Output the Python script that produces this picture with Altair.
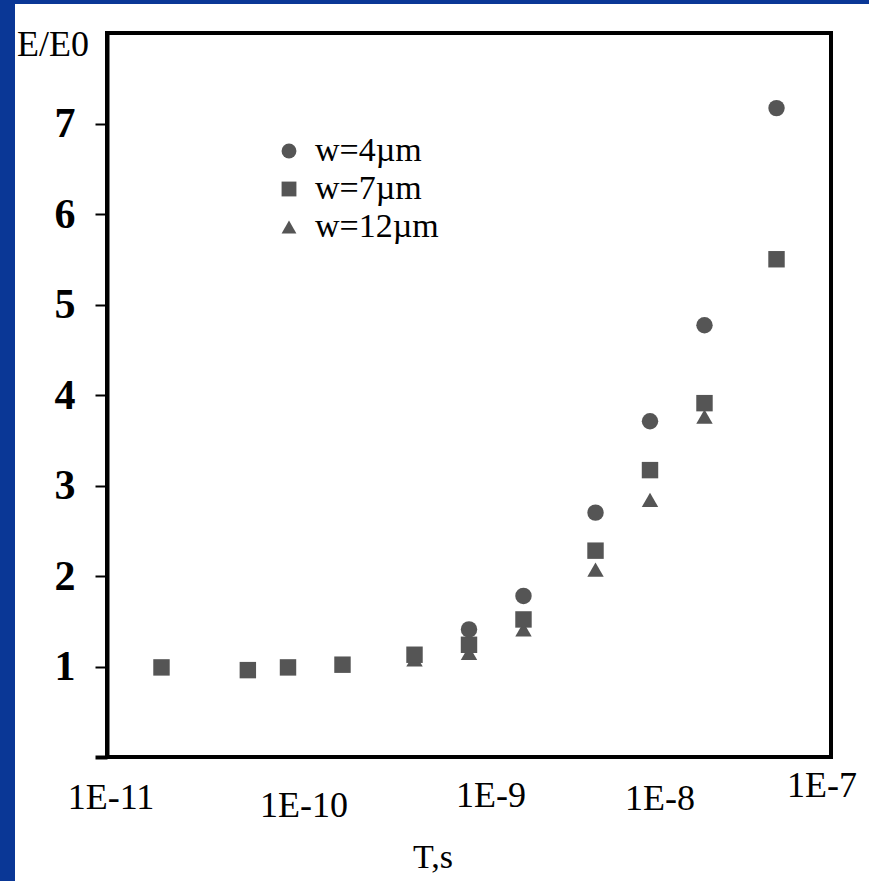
import altair as alt
import pandas as pd

# ---------------- data ----------------
series_names = ["w=4µm", "w=7µm", "w=12µm"]
series_shapes = ["circle", "square", "triangle-up"]

t_w4 = [1e-9, 2e-9, 5e-9, 1e-8, 2e-8, 5e-8]
e_w4 = [1.41, 1.78, 2.70, 3.71, 4.77, 7.17]

t_w7 = [2e-11, 6e-11, 1e-10, 2e-10, 5e-10, 1e-9, 2e-9, 5e-9, 1e-8, 2e-8, 5e-8]
e_w7 = [0.99, 0.96, 0.99, 1.02, 1.13, 1.24, 1.52, 2.28, 3.17, 3.91, 5.50]

t_w12 = [5e-10, 1e-9, 2e-9, 5e-9, 1e-8, 2e-8]
e_w12 = [1.08, 1.15, 1.41, 2.07, 2.84, 3.76]

x_tick_values = [1e-11, 1e-10, 1e-9, 1e-8, 1e-7]
x_tick_labels = ["1E-11", "1E-10", "1E-9", "1E-8", "1E-7"]
x_tick_marks = [1e-11, 1e-10, 1e-8]
y_tick_values = [0, 1, 2, 3, 4, 5, 6, 7]

# ---------------- style ----------------
PAD_L, PAD_T, W, H = 107, 33, 724, 724
FIG_W, FIG_H = 869, 881
SERIF = "Liberation Serif"
GRAY = "#555555"
BLUE = "#0a3796"

rows = []
for name, ts, es in [("w=12µm", t_w12, e_w12), ("w=7µm", t_w7, e_w7), ("w=4µm", t_w4, e_w4)]:
    rows += [{"T": t, "E": e, "series": name} for t, e in zip(ts, es)]
df = pd.DataFrame(rows)

x_scale = alt.Scale(type="log", domain=[1e-11, 1e-7], nice=False)
y_scale = alt.Scale(domain=[0, 8], nice=False)

one = alt.Data(values=[{}])

panel = alt.Chart(one).mark_rect(color="white").encode(
    x=alt.value(15 - PAD_L), x2=alt.value(FIG_W - PAD_L),
    y=alt.value(4 - PAD_T), y2=alt.value(FIG_H - PAD_T),
)

frame = alt.Chart(one).mark_rect(fill="transparent", stroke="black", strokeWidth=4).encode(
    x=alt.value(0), x2=alt.value("width"), y=alt.value(0), y2=alt.value("height"),
)

points = alt.Chart(df).mark_point(filled=True, opacity=1, color=GRAY, strokeWidth=0, size=270).encode(
    x=alt.X("T:Q", scale=x_scale, axis=alt.Axis(
        values=x_tick_marks, labels=False, title=None, grid=False,
        domainColor="black", domainWidth=4, tickColor="black", tickSize=12,
        tickWidth={"condition": {"test": "datum.value < 2e-11", "value": 4}, "value": 2},
        zindex=1)),
    y=alt.Y("E:Q", scale=y_scale, axis=alt.Axis(
        values=y_tick_values, title=None, grid=False,
        labelExpr="datum.value == 0 ? '' : datum.label",
        labelFont=SERIF, labelFontSize=42, labelFontWeight="bold", labelColor="black",
        labelPadding=20, domainColor="black", domainWidth=4, tickColor="black", tickSize=12,
        tickWidth={"condition": {"test": "datum.value == 0", "value": 4}, "value": 2},
        zindex=1)),
    shape=alt.Shape("series:N", scale=alt.Scale(domain=series_names, range=series_shapes),
                    legend=alt.Legend(title=None, orient="none", legendX=165, legendY=101,
                                      labelFont=SERIF, labelFontSize=34, labelColor="black",
                                      symbolSize=220, symbolFillColor=GRAY, symbolStrokeWidth=0,
                                      symbolStrokeColor=GRAY, symbolOpacity=1,
                                      rowPadding=4, labelOffset=9, padding=0)),
)

label_df = pd.DataFrame({"T": x_tick_values, "label": x_tick_labels})
label_dx = {"1E-11": 4, "1E-10": 16, "1E-9": 22, "1E-8": 10, "1E-7": -9}
label_cy = {"1E-11": 798, "1E-10": 806, "1E-9": 796, "1E-8": 799, "1E-7": 786}

x_labels = []
for lab in x_tick_labels:
    x_labels.append(
        alt.Chart(label_df).transform_filter(alt.datum.label == lab)
        .mark_text(font=SERIF, fontSize=36, color="black", baseline="middle", align="center",
                   dx=label_dx[lab])
        .encode(x=alt.X("T:Q", scale=x_scale, axis=None), y=alt.value(label_cy[lab] - PAD_T),
                text="label:N")
    )

x_title = alt.Chart(one).mark_text(font=SERIF, fontSize=34, color="black", baseline="middle",
                                   align="center").encode(
    x=alt.value(433 - PAD_L), y=alt.value(858 - PAD_T), text=alt.value("T,s"))

y_title = alt.Chart(one).mark_text(font=SERIF, fontSize=36, color="black", baseline="middle",
                                   align="left").encode(
    x=alt.value(17 - PAD_L), y=alt.value(45 - PAD_T), text=alt.value("E/E0"))

chart = alt.layer(panel, frame, points, *x_labels, x_title, y_title).properties(
    width=W, height=H, background=BLUE,
    padding={"left": PAD_L, "top": PAD_T, "right": FIG_W - PAD_L - W, "bottom": FIG_H - PAD_T - H},
    autosize=alt.AutoSizeParams(type="none"),
).configure_view(stroke=None)

chart.save("out.html", embed_options={"renderer": "svg", "actions": False})
